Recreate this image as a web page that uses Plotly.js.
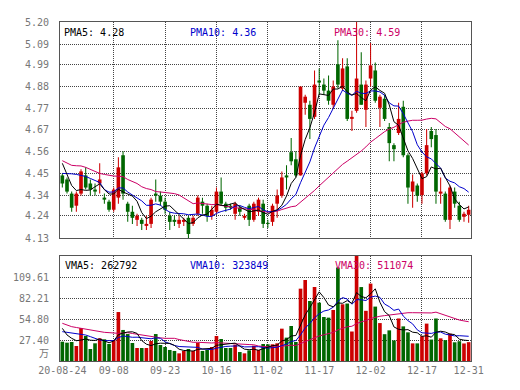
<!DOCTYPE html>
<html>
<head>
<meta charset="utf-8">
<script src="https://cdn.plot.ly/plotly-3.0.1.min.js"></script>
<style>html,body{margin:0;padding:0;background:#fff;}#chart{width:520px;height:390px;}</style>
</head>
<body>
<div id="chart"></div>
<script>
// ---- data ----
const dateLabels = ['20-08-24','09-08','09-23','10-16','11-02','11-17','12-02','12-17','12-31'];
const dateIndex  = [0, 11, 22, 33, 44, 55, 66, 77, 87];

const openP  = [4.44,4.42,4.35,4.29,4.35,4.44,4.40,4.37,4.40,4.33,4.31,4.27,4.33,4.54,4.30,4.26,4.22,4.22,4.19,4.20,
                4.35,4.34,4.31,4.24,4.22,4.20,4.21,4.23,4.20,4.25,4.31,4.29,4.24,4.26,4.36,4.30,4.29,4.25,4.28,4.23,
                4.29,4.22,4.26,4.30,4.205,4.21,4.30,4.34,4.44,4.555,4.52,4.44,4.80,4.79,4.73,4.91,4.89,4.86,4.79,4.99,
                4.87,4.98,4.72,4.76,4.89,4.765,4.92,4.96,4.775,4.82,4.68,4.59,4.65,4.78,4.54,4.36,4.39,4.343,4.45,4.66,
                4.64,4.35,4.35,4.22,4.36,4.29,4.235,4.245];
const highP  = [4.45,4.43,4.36,4.36,4.47,4.48,4.42,4.40,4.50,4.35,4.32,4.38,4.53,4.56,4.31,4.29,4.25,4.23,4.24,4.33,
                4.42,4.36,4.33,4.26,4.24,4.24,4.23,4.24,4.24,4.34,4.33,4.30,4.29,4.38,4.43,4.31,4.30,4.31,4.29,4.25,
                4.30,4.31,4.33,4.32,4.22,4.30,4.37,4.46,4.49,4.625,4.56,4.88,4.84,4.81,4.96,4.97,4.92,4.935,4.91,5.11,
                5.02,5.02,4.76,5.20,5.05,4.91,5.096,5.00,4.84,4.84,4.70,4.60,4.80,4.81,4.55,4.445,4.40,4.458,4.67,4.68,
                4.67,4.43,4.36,4.39,4.38,4.31,4.26,4.29];
const lowP   = [4.38,4.35,4.26,4.26,4.34,4.37,4.34,4.34,4.35,4.30,4.26,4.26,4.30,4.32,4.21,4.20,4.19,4.17,4.17,4.18,
                4.31,4.29,4.25,4.17,4.19,4.18,4.19,4.13,4.19,4.24,4.25,4.21,4.22,4.25,4.29,4.26,4.27,4.22,4.24,4.22,
                4.19,4.21,4.24,4.18,4.18,4.19,4.23,4.33,4.37,4.49,4.43,4.44,4.74,4.62,4.72,4.84,4.84,4.79,4.77,4.87,
                4.86,4.71,4.66,4.75,4.79,4.68,4.88,4.80,4.68,4.71,4.51,4.51,4.64,4.53,4.30,4.28,4.31,4.30,4.44,4.58,
                4.30,4.30,4.21,4.175,4.28,4.21,4.21,4.205];
const closeP = [4.40,4.36,4.28,4.35,4.46,4.38,4.37,4.36,4.42,4.32,4.27,4.37,4.48,4.35,4.26,4.23,4.24,4.20,4.20,4.32,
                4.34,4.31,4.27,4.21,4.21,4.22,4.22,4.15,4.23,4.33,4.29,4.24,4.27,4.36,4.30,4.28,4.28,4.30,4.26,4.24,
                4.22,4.30,4.32,4.20,4.20,4.29,4.34,4.43,4.43,4.51,4.44,4.88,4.83,4.72,4.89,4.90,4.86,4.81,4.88,4.89,
                4.97,4.72,4.73,4.92,4.79,4.89,4.985,4.81,4.83,4.72,4.60,4.57,4.72,4.54,4.38,4.41,4.34,4.45,4.59,4.62,
                4.36,4.36,4.22,4.38,4.30,4.22,4.25,4.27];
// volume in units of 10,000 (万)
const volume = [25.2,23.9,24.8,19.6,43.1,32.6,15.7,23.1,29.6,28.3,22.2,27.4,63.9,40.5,35.2,23.5,17.0,17.0,17.0,26.1,
                35.2,20.9,18.3,14.4,13.1,10.0,13.1,15.7,13.1,23.9,13.1,14.4,18.3,32.6,28.7,17.0,17.0,21.3,11.7,10.0,
                13.9,20.0,14.4,22.2,21.8,21.8,23.1,42.2,30.5,45.7,24.8,94.4,105.7,78.3,96.6,76.1,57.4,56.6,66.6,122.0,
                74.0,75.0,38.5,137.0,96.5,65.5,101.0,71.0,49.5,35.0,40.0,26.8,55.5,45.2,37.4,23.0,23.0,32.4,48.8,28.0,
                55.5,29.6,27.2,35.6,24.4,25.8,22.9,24.6];
// moving-average values before each window is full
const pma5Head  = [4.50,4.44,4.39,4.365];
const pma10Head = [4.45,4.45,4.448,4.445,4.44,4.435,4.425,4.415,4.405];
const pma30Head = [4.513,4.50,4.49,4.488,4.487,4.48,4.47,4.46,4.45,4.445,4.44,4.437,4.436,4.434,4.42,4.41,4.40,4.384,4.375,4.37,
                   4.36,4.358,4.356,4.354,4.35,4.343,4.33,4.315,4.30];
const vma5Head  = [42.6,34.0,29.6,26.5];
const vma10Head = [38.3,37.4,36.1,35.2,35.2,33.9,31.8,29.6,27.4];
const vma30Head = [49.2,47.0,44.8,43.7,42.6,41.5,40.3,39.2,38.3,37.4,37.0,36.5,36.1,36.5,37.0,35.9,34.8,33.7,32.6,31.7,
                   30.9,30.2,29.6,29.6,29.6,28.0,26.5,25.4,24.4];

// legend texts as printed in the reference
const priceLegend = ['PMA5: 4.28', 'PMA10: 4.36', 'PMA30: 4.59'];
const volLegend   = ['VMA5: 262792', 'VMA10: 323849', 'VMA30: 511074'];
const volUnit = '万';

const priceTickText = ['4.13','4.24','4.34','4.45','4.56','4.67','4.77','4.88','4.99','5.09','5.20'];
const volTickText   = ['27.40','54.80','82.21','109.61'];
const volTop = 137.01;

// ---- build ----
const RED = '#cc0000', GREEN = '#006600';
const n = closeP.length;
const xs = closeP.map((_, i) => i);
const cols = closeP.map((c, i) => c >= openP[i] ? RED : GREEN);

function movingAvg(arr, w, head) {
  return arr.map((_, i) => {
    if (i < w - 1) return head[i];
    let s = 0; for (let k = i - w + 1; k <= i; k++) s += arr[k];
    return s / w;
  });
}
const pma5 = movingAvg(closeP, 5, pma5Head), pma10 = movingAvg(closeP, 10, pma10Head), pma30 = movingAvg(closeP, 30, pma30Head);
const vma5 = movingAvg(volume, 5, vma5Head), vma10 = movingAvg(volume, 10, vma10Head), vma30 = movingAvg(volume, 30, vma30Head);

const wick = {type:'bar', x:xs, base:lowP, y:highP.map((h,i)=>h-lowP[i]), width:0.22,
  marker:{color:cols, line:{width:0}}, xaxis:'x', yaxis:'y', hoverinfo:'skip'};
const body = {type:'bar', x:xs, base:closeP.map((c,i)=>Math.min(c,openP[i])),
  y:closeP.map((c,i)=>Math.max(Math.abs(c-openP[i]),0.005)), width:0.78,
  marker:{color:cols, line:{width:0}}, xaxis:'x', yaxis:'y', hoverinfo:'skip'};
const line = (y, color, xa, ya) => ({type:'scatter', mode:'lines', x:xs, y:y, line:{color:color, width:1},
  xaxis:xa, yaxis:ya, hoverinfo:'skip'});
const volBars = {type:'bar', x:xs, y:volume, width:0.78, marker:{color:cols, line:{width:0}},
  xaxis:'x2', yaxis:'y2', hoverinfo:'skip'};

const traces = [wick, body,
  line(pma30,'#cc0066','x','y'), line(pma10,'#0000cc','x','y'), line(pma5,'#000000','x','y'),
  volBars,
  line(vma30,'#cc0066','x2','y2'), line(vma10,'#0000cc','x2','y2'), line(vma5,'#000000','x2','y2')];

const gridC = '#444', frameC = '#555', dash = '1px,1px';
const tf = {family:'DejaVu Sans Mono, monospace', size:10, color:'#777'};
const inner = dateIndex.slice(1, -1);

const ann = (text, x, y, color) => ({text:text, xref:'paper', yref:'paper', x:x, y:y, xanchor:'left', yanchor:'middle',
  showarrow:false, font:{family:'DejaVu Sans Mono, monospace', size:10, color:color}});

const layout = {
  width:520, height:390, margin:{l:60, r:49, t:22, b:29},
  paper_bgcolor:'#fff', plot_bgcolor:'#fff', showlegend:false, barmode:'overlay',
  xaxis:{domain:[0,1], anchor:'y', range:[-0.5, n-0.5], tickvals:inner, showticklabels:false, ticks:'',
    showgrid:true, gridcolor:gridC, griddash:dash, gridwidth:1, zeroline:false,
    showline:true, mirror:true, linecolor:frameC, linewidth:1, fixedrange:true},
  yaxis:{domain:[0.3628,1], anchor:'x', range:[4.13,5.20], tickvals:priceTickText.map(Number), ticktext:priceTickText,
    ticks:'outside', ticklen:8, tickcolor:'rgba(0,0,0,0)', tickfont:tf,
    showgrid:true, gridcolor:gridC, griddash:dash, gridwidth:1, zeroline:false,
    showline:true, mirror:true, linecolor:frameC, linewidth:1},
  xaxis2:{domain:[0,1], anchor:'y2', range:[-0.5, n-0.5], tickvals:dateIndex, ticktext:dateLabels, ticks:'',
    tickfont:tf, showgrid:false, zeroline:false,
    minor:{tickvals:inner, showgrid:true, gridcolor:gridC, griddash:dash, gridwidth:1, ticks:''},
    showline:true, mirror:true, linecolor:frameC, linewidth:1},
  yaxis2:{domain:[0,0.3097], anchor:'x2', range:[0, volTop], tickvals:volTickText.map(Number), ticktext:volTickText,
    ticks:'outside', ticklen:8, tickcolor:'rgba(0,0,0,0)', tickfont:tf,
    showgrid:true, gridcolor:gridC, griddash:dash, gridwidth:1, zeroline:false,
    showline:true, mirror:true, linecolor:frameC, linewidth:1},
  annotations:[
    ann(priceLegend[0], 0.005, 0.9705, '#000000'),
    ann(priceLegend[1], 0.311, 0.9705, '#0000cc'),
    ann(priceLegend[2], 0.662, 0.9705, '#cc0066'),
    ann(volLegend[0], 0.007, 0.283, '#000000'),
    ann(volLegend[1], 0.311, 0.283, '#0000cc'),
    ann(volLegend[2], 0.664, 0.283, '#cc0066'),
    {text:volUnit, xref:'paper', yref:'paper', x:-0.039, y:0.0265, xanchor:'center', yanchor:'middle', showarrow:false,
     font:{family:'Noto Sans CJK SC, sans-serif', size:10, color:'#777'}}
  ]
};

Plotly.newPlot('chart', traces, layout, {staticPlot:true, displayModeBar:false});
</script>
</body>
</html>
